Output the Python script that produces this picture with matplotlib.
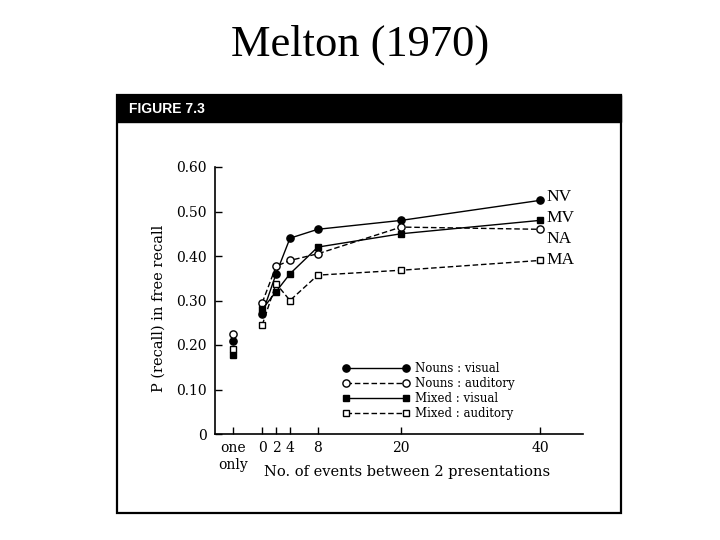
import matplotlib.pyplot as plt
from matplotlib.patches import Rectangle

# data
events = [0, 2, 4, 8, 20, 40]
nouns_visual = [0.27, 0.36, 0.44, 0.46, 0.48, 0.525]
nouns_auditory = [0.295, 0.377, 0.39, 0.405, 0.465, 0.46]
mixed_visual = [0.28, 0.32, 0.36, 0.42, 0.45, 0.48]
mixed_auditory = [0.245, 0.338, 0.30, 0.357, 0.368, 0.39]
one_only_x = -4.2
one_only = [0.21, 0.225, 0.178, 0.19]   # NV, NA, MV, MA

series_names = ["Nouns : visual", "Nouns : auditory", "Mixed : visual", "Mixed : auditory"]
short_names = ["NV", "MV", "NA", "MA"]
xtick_pos = [one_only_x, 0, 2, 4, 8, 20, 40]
xtick_lab = ["one\nonly", "0", "2", "4", "8", "20", "40"]
ytick_pos = [0, 0.1, 0.2, 0.3, 0.4, 0.5, 0.6]
ytick_lab = ["0", "0.10", "0.20", "0.30", "0.40", "0.50", "0.60"]

serif = "DejaVu Serif"

fig = plt.figure(figsize=(7.2, 5.4), dpi=100)
fig.patch.set_facecolor("white")

fig.text(0.5, 1 - 45 / 540, "Melton (1970)", ha="center", va="center",
         family="Liberation Serif", fontsize=32)

# frame and header bar of the scanned figure
fig.patches.append(Rectangle((117 / 720, 1 - 513 / 540), 504 / 720, 418 / 540,
                             transform=fig.transFigure, fill=False, lw=1.6,
                             ec="black"))
fig.patches.append(Rectangle((117 / 720, 1 - 122 / 540), 504 / 720, 27 / 540,
                             transform=fig.transFigure, fc="black", ec="black"))
fig.text(129 / 720, 1 - 109 / 540, "FIGURE 7.3", color="white", ha="left",
         va="center", family="Liberation Sans", fontweight="bold", fontsize=10)

ax = fig.add_axes([215 / 720, 1 - 434 / 540, 368 / 720, 267 / 540])

lw = 1.0
ms_c = 5.2
ms_s = 4.6
styles = [
    dict(ls="-", marker="o", mfc="black", ms=ms_c),
    dict(ls=(0, (4, 2)), marker="o", mfc="white", ms=ms_c),
    dict(ls="-", marker="s", mfc="black", ms=ms_s),
    dict(ls=(0, (4, 2)), marker="s", mfc="white", ms=ms_s),
]
all_series = [nouns_visual, nouns_auditory, mixed_visual, mixed_auditory]

handles = []
for vals, st, name, oo in zip(all_series, styles, series_names, one_only):
    h, = ax.plot(events, vals, color="black", lw=lw, mec="black", mew=1.0,
                 label=name, clip_on=False, zorder=3, **st)
    ax.plot([one_only_x], [oo], color="black", ls="none", marker=st["marker"],
            mfc=st["mfc"], mec="black", mew=1.0, ms=st["ms"], clip_on=False,
            zorder=3)
    handles.append(h)

# series tags at the right end
tag_y = [0.533, 0.486, 0.439, 0.391]
for name, ty in zip(short_names, tag_y):
    ax.text(41.0, ty, name, ha="left", va="center", family="Liberation Serif",
            fontsize=12.5, clip_on=False)

ax.set_xlim(-6.8, 46.2)
ax.set_ylim(0, 0.6)
ax.spines["top"].set_visible(False)
ax.spines["right"].set_visible(False)
ax.spines["left"].set_linewidth(1.2)
ax.spines["bottom"].set_linewidth(1.2)
ax.set_xticks(xtick_pos)
ax.set_xticklabels(xtick_lab, family=serif, fontsize=10)
ax.set_yticks(ytick_pos)
ax.set_yticklabels(ytick_lab, family=serif, fontsize=10)
ax.tick_params(direction="in", length=5, width=1.0)
ax.tick_params(axis="x", pad=5)
ax.tick_params(axis="y", pad=6)
for lab in ax.get_xticklabels():
    lab.set_linespacing(1.3)

ax.set_xlabel("No. of events between 2 presentations", family=serif, fontsize=10.5)
ax.xaxis.set_label_coords(0.522, -0.115)
ax.set_ylabel("P (recall) in free recall", family=serif, fontsize=10.5)
ax.yaxis.set_label_coords(-0.133, 0.472)

ax.legend(handles=handles, loc="upper left", bbox_to_anchor=(0.345, 0.27),
          frameon=False, numpoints=2, handlelength=5.7, handletextpad=0.5,
          labelspacing=0.17, borderaxespad=0, borderpad=0,
          prop={"family": serif, "size": 8.5})

fig.savefig("out.png", dpi=100, facecolor="white")
